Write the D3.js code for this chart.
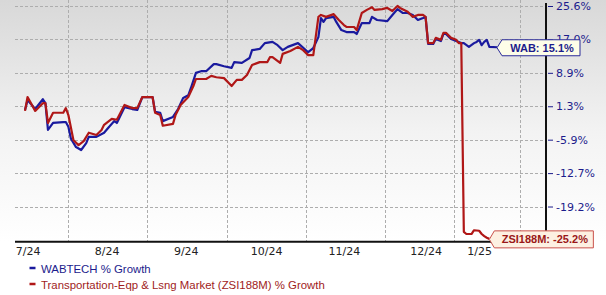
<!DOCTYPE html>
<html><head><meta charset="utf-8">
<script src="https://cdn.jsdelivr.net/npm/d3@7"></script>
<style>body{margin:0;background:#fff}svg{display:block}</style>
</head><body>
<svg id="c" width="606" height="295"></svg>
<script>
// ---- data ----
const yTickValues = [25.6, 17.0, 8.9, 1.3, -5.9, -12.7, -19.2];
const xTickLabels = ["7/24", "8/24", "9/24", "10/24", "11/24", "12/24", "1/25"];
const xTickDays = [1, 32, 63, 94.5, 125, 157, 178];
const xGridDays = [17, 48, 79, 110, 141, 168, 194];

const wabDays = [0,1,4,7,8,9,11,15,16,17,18,20,22,24,25,28,31,33,35,36,39,42,44,46,50,51,53,54,58,60,62,64,65,67,69,71,74,75,78,81,82,85,88,89,92,94,97,99,101,103,107,111,113,115,116,117,118,121,122,124,126,129,130,132,135,136,138,142,144,146,148,150,152,154,156,157,158,160,161,163,164,165,167,169,171,172,174,176,177,178,179,180,181,182,185];
const wabValues = [0.5,2.7,0.7,2.9,2.0,-3.8,-2.3,-2.1,-2.1,-3.1,-5.7,-7.4,-8.0,-6.6,-5.3,-5.3,-4.4,-3.1,-1.9,-2.3,1.1,0.7,0.5,3.4,3.4,0.1,-0.1,-1.9,-1.0,0.7,3.2,3.8,5.4,8.9,9.3,9.3,11.0,11.0,10.5,10.1,11.5,11.3,12.5,14.4,14.7,16.1,16.4,15.6,14.4,15.2,16.1,13.9,14.9,17.6,22.5,21.5,22.5,22.8,21.5,19.4,18.9,18.9,18.4,21.2,21.2,22.8,22.0,21.7,23.3,24.8,23.8,23.8,23.3,22.0,22.5,22.8,15.9,15.9,17.1,16.6,18.4,18.4,17.1,16.6,16.1,16.1,15.2,16.1,16.4,16.9,15.6,16.4,16.9,15.2,15.1];

const zsiDays = [0,1,4,7,8,9,11,15,16,17,19,21,23,25,28,30,31,34,36,39,42,44,46,50,51,53,54,58,59,61,64,66,67,71,73,75,78,81,83,85,87,89,92,95,96,97,100,101,104,107,109,111,113,115,116,118,121,123,125,126,129,130,132,134,136,137,140,142,144,146,147,150,152,154,156,157,158,160,161,163,164,165,167,169,170,171,172,173,175,176,178,179,180,181,182];
const zsiValues = [0.3,3.4,0.3,2.0,2.0,-2.3,-0.1,-0.1,0.9,-0.6,-6.0,-7.0,-6.2,-4.4,-4.9,-3.8,-2.7,-1.4,-1.6,1.6,0.9,0.9,3.4,3.4,-0.1,-0.6,-2.9,-2.5,-0.6,1.6,3.4,5.9,7.5,7.5,8.2,7.9,7.7,5.9,7.3,7.3,8.4,10.8,11.5,11.5,12.7,12.7,11.3,13.5,14.2,15.2,14.4,13.2,13.2,22.8,23.3,22.8,23.5,22.0,20.7,20.2,20.2,19.4,23.8,24.6,25.3,24.6,24.8,25.1,24.3,25.6,25.1,24.1,22.8,23.3,23.3,22.8,16.1,16.1,17.4,16.9,18.7,18.7,17.4,16.9,16.1,16.1,-23.9,-24.3,-24.3,-23.6,-23.7,-24.3,-24.7,-25.0,-25.2];

const seriesNames = ["WABTECH % Growth", "Transportation-Eqp & Lsng Market (ZSI188M) % Growth"];
const calloutLabels = ["WAB", "ZSI188M"];

// ---- layout ----
const W = 606, H = 295;
const plotL = 15, plotR = 546, plotT = 3, plotB = 241.7;
const blue = "#1a1a9e", red = "#b01717";
const navyText = "#1c1c8c";

const svg = d3.select("#c");
const defs = svg.append("defs");
const grad = defs.append("linearGradient").attr("id","bg").attr("x1",0).attr("y1",0).attr("x2",0).attr("y2",1);
grad.append("stop").attr("offset","0%").attr("stop-color","#d8d8d8");
grad.append("stop").attr("offset","55%").attr("stop-color","#f3f3f3");
grad.append("stop").attr("offset","100%").attr("stop-color","#ffffff");
svg.append("rect").attr("x",0).attr("y",0).attr("width",W).attr("height",plotB).attr("fill","url(#bg)");

// scales
const x = d3.scaleLinear().domain([0, 185]).range([25, 497]);
const step = 33.42, yTop = 6;
const yDomain = [-25.4].concat(yTickValues.slice().reverse());
const yRange = yDomain.map((d,i) => yTop + (yDomain.length - 1 - i) * step);
const y = d3.scaleLinear().domain(yDomain).range(yRange);

// grid
const grid = svg.append("g").attr("stroke","#adadad").attr("stroke-width",1).attr("stroke-dasharray","3,2");
grid.selectAll(".h").data(yTickValues).join("line")
  .attr("x1",plotL).attr("x2",plotR).attr("y1",d=>Math.round(y(d))+0.5).attr("y2",d=>Math.round(y(d))+0.5);
grid.selectAll(".v").data(xGridDays).join("line")
  .attr("x1",d=>Math.round(x(d))+0.5).attr("x2",d=>Math.round(x(d))+0.5).attr("y1",0).attr("y2",plotB);

// axes lines
svg.append("line").attr("x1",plotL).attr("x2",plotR+1).attr("y1",plotB).attr("y2",plotB).attr("stroke","#111").attr("stroke-width",2);
svg.append("line").attr("x1",plotR).attr("x2",plotR).attr("y1",plotT).attr("y2",plotB+1).attr("stroke","#111").attr("stroke-width",2);

// right axis via d3.axisRight
const yAxis = d3.axisRight(y).tickValues(yTickValues).tickSize(5).tickPadding(3)
  .tickFormat(d => d.toFixed(1) + "%");
const ya = svg.append("g").attr("transform",`translate(${plotR+2},0)`).call(yAxis);
ya.select(".domain").remove();
ya.selectAll(".tick line").attr("stroke",navyText);
ya.selectAll(".tick text").attr("fill",navyText).attr("font-family","DejaVu Sans, Verdana, sans-serif").attr("font-size",11);

// bottom axis labels
const xAxis = d3.axisBottom(x).tickValues(xTickDays).tickSize(0).tickPadding(6)
  .tickFormat((d,i) => xTickLabels[i]);
const xa = svg.append("g").attr("transform",`translate(0,${plotB})`).call(xAxis);
xa.select(".domain").remove();
xa.selectAll(".tick text").attr("fill","#222").attr("font-family","DejaVu Sans, Verdana, sans-serif").attr("font-size",11);

// lines
const wab = wabDays.map((d,i) => ({d, v: wabValues[i]}));
const zsi = zsiDays.map((d,i) => ({d, v: zsiValues[i]}));
const line = d3.line().x(p => x(p.d)).y(p => y(p.v));
svg.append("path").datum(wab).attr("d",line).attr("fill","none").attr("stroke",blue).attr("stroke-width",2.2).attr("stroke-linejoin","round");
svg.append("path").datum(zsi).attr("d",line).attr("fill","none").attr("stroke",red).attr("stroke-width",2.2).attr("stroke-linejoin","round");

// callouts
function callout(last, text, w, h, fill, stroke, color) {
  const tx = x(last.d), ty = y(last.v) + 0.5, off = 5;
  const l = tx + off, t = ty - h/2, b = ty + h/2, r = l + w;
  const g = svg.append("g");
  g.append("path").attr("d",`M${tx},${ty} L${l},${t} L${r},${t} L${r},${b} L${l},${b} Z`)
    .attr("fill",fill).attr("stroke",stroke).attr("stroke-width",1);
  g.append("text").attr("x",(l+r)/2+1).attr("y",ty+4).attr("text-anchor","middle")
    .attr("font-family","Liberation Sans, Arial, sans-serif").attr("font-weight","bold").attr("font-size",11)
    .attr("fill",color).text(text);
}
const wl = wab[wab.length-1], zl = zsi[zsi.length-1];
callout(wl, `${calloutLabels[0]}: ${wl.v.toFixed(1)}%`, 78, 16, "#fdfde8", "#2a2a9a", navyText);
callout(zl, `${calloutLabels[1]}: ${zl.v.toFixed(1)}%`, 99, 17, "#fdf0e2", "#c9504a", "#9a1818");

// legend
const lg = svg.append("g");
const legendColors = [blue, red], legendText = [navyText, "#a01c1c"];
seriesNames.forEach((n,i) => {
  const yy = 268 + i*16;
  lg.append("line").attr("x1",29.5).attr("x2",35.5).attr("y1",yy).attr("y2",yy).attr("stroke",legendColors[i]).attr("stroke-width",2.5);
  lg.append("text").attr("x",41).attr("y",yy+4.5).attr("font-family","Liberation Sans, Arial, sans-serif").attr("font-size",11.4)
    .attr("fill",legendText[i]).text(n);
});
</script>
</body></html>
